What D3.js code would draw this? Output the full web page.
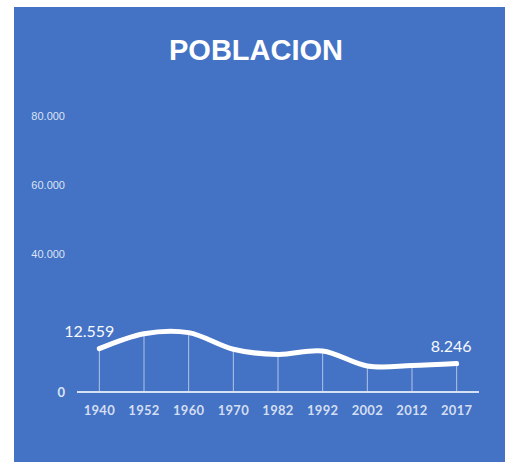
<!DOCTYPE html>
<html>
<head>
<meta charset="utf-8">
<script src="https://cdn.jsdelivr.net/npm/d3@7"></script>
<style>
body { margin: 0; background: #fff; }
svg { display: block; }
.ytick { font: 11px "Liberation Sans", sans-serif; fill: #dbe4f4; }
.xtick { font: bold 13px Lato, sans-serif; fill: #d3def2; letter-spacing: 0.3px; }
.dlabel { font: 16px Lato, sans-serif; fill: #f7f9fd; }
</style>
</head>
<body>
<svg id="chart" width="511" height="462"></svg>
<script>

// data
var years  = ["1940", "1952", "1960", "1970", "1982", "1992", "2002", "2012", "2017"];
var values = [12559, 16900, 17200, 12400, 10900, 11900, 7550, 7650, 8246];
var yTicks = [0, 40000, 60000, 80000];
var labelled = ["1940", "2017"];

var svg = d3.select("#chart");

// blue panel
svg.append("rect")
    .attr("x", 14).attr("y", 7)
    .attr("width", 491).attr("height", 455)
    .attr("fill", "#4472c4");

svg.append("text")
    .attr("x", 256).attr("y", 60)
    .attr("text-anchor", "middle")
    .style("font", "bold 29px 'Liberation Sans', Arial, sans-serif")
    .style("fill", "#ffffff")
    .text("POBLACION");

var x = d3.scaleBand()
    .domain(years)
    .range([77, 479]);

var y = d3.scaleLinear()
    .domain([0, 80000])
    .range([392, 116]);

var fmt = function(v){ return d3.format(",")(v).replace(/,/g, "."); };

// y labels
svg.selectAll(".ytick")
    .data(yTicks)
    .enter().append("text")
    .attr("class", "ytick")
    .attr("x", 65)
    .attr("y", function(d){ return y(d); })
    .attr("dy", "0.35em")
    .attr("text-anchor", "end")
    .style("font-weight", function(d){ return d == 0 ? "bold" : "normal"; })
    .style("font-size", function(d){ return d == 0 ? "13px" : "11px"; })
    .style("font-family", function(d){ return d == 0 ? "Lato, sans-serif" : null; })
    .text(function(d){ return fmt(d); });

var cx = function(d){ return x(d) + x.bandwidth() / 2; };

// drop lines
svg.selectAll(".drop")
    .data(years)
    .enter().append("line")
    .attr("class", "drop")
    .attr("x1", cx).attr("x2", cx)
    .attr("y1", function(d, i){ return y(values[i]); })
    .attr("y2", y(0))
    .attr("stroke", "#dfe7f6")
    .attr("stroke-opacity", 0.7)
    .attr("stroke-width", 1);

// axis line
svg.append("line")
    .attr("x1", x.range()[0]).attr("x2", x.range()[1])
    .attr("y1", y(0)).attr("y2", y(0))
    .attr("stroke", "#d6e0f3")
    .attr("stroke-width", 2);

svg.selectAll(".xtick")
    .data(years)
    .enter().append("text")
    .attr("class", "xtick")
    .attr("x", cx)
    .attr("y", 415)
    .attr("text-anchor", "middle")
    .text(function(d){ return d; });

// smoothed line
var line = d3.line()
    .x(function(d, i){ return cx(years[i]); })
    .y(function(d){ return y(d); })
    .curve(d3.curveCardinal.tension(0));

svg.append("path")
    .datum(values)
    .attr("d", line)
    .attr("fill", "none")
    .attr("stroke", "#ffffff")
    .attr("stroke-width", 5)
    .attr("stroke-linecap", "round");

svg.selectAll(".dlabel")
    .data(labelled)
    .enter().append("text")
    .attr("class", "dlabel")
    .attr("x", function(d){ return cx(d) + 15; })
    .attr("y", function(d){ return y(values[years.indexOf(d)]) - 12; })
    .attr("text-anchor", "end")
    .text(function(d){ return fmt(values[years.indexOf(d)]); });

</script>
</body>
</html>
